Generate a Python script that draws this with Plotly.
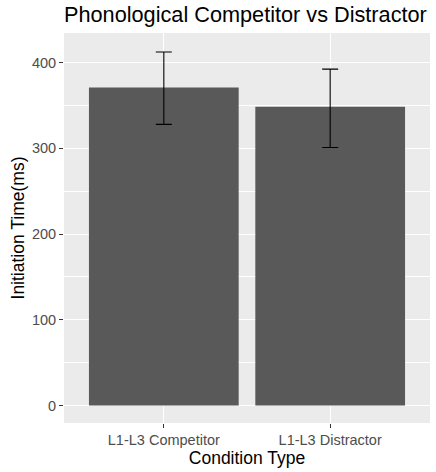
import plotly.graph_objects as go

categories = ["L1-L3 Competitor", "L1-L3 Distractor"]
means = [371, 348.5]
err_plus = [41.5, 44]
err_minus = [43, 47.5]
y_ticks = [0, 100, 200, 300, 400]

fig = go.Figure()
fig.add_trace(go.Bar(
    x=categories, y=means, width=0.9,
    marker=dict(color="#595959", line=dict(width=0)),
    error_y=dict(type="data", symmetric=False, array=err_plus, arrayminus=err_minus,
                 color="#000000", thickness=1.1, width=8),
))

fig.update_layout(
    width=436, height=472,
    margin=dict(l=64, r=6, t=33, b=49),
    paper_bgcolor="white", plot_bgcolor="#EBEBEB",
    font=dict(family="Liberation Sans, Arial, sans-serif", color="#000000"),
    title=dict(text="Phonological Competitor vs Distractor", x=0, xref="paper", xanchor="left",
               y=1 - 14.5/472, yref="container", yanchor="middle",
               font=dict(size=21.7, color="#000000")),
    showlegend=False,
    bargap=0.1,
)
fig.update_xaxes(
    range=[-0.6, 1.6], showgrid=True, gridcolor="white", gridwidth=1.1,
    ticks="outside", ticklen=4, tickcolor="#333333", tickwidth=1,
    tickfont=dict(size=14.5, color="#4D4D4D"),
    title=dict(text="Condition Type", font=dict(size=17.5, color="#000000"), standoff=2),
    zeroline=False, showline=False,
)
fig.update_yaxes(
    range=[-20.4, 434.6], tickvals=y_ticks, showgrid=True, gridcolor="white", gridwidth=1.1,
    minor=dict(tickvals=[50, 150, 250, 350], showgrid=True, gridcolor="white", gridwidth=0.5, ticks=""),
    ticks="outside", ticklen=4, tickcolor="#333333", tickwidth=1,
    tickfont=dict(size=14.5, color="#4D4D4D"),
    title=dict(text="Initiation Time(ms)", font=dict(size=17.5, color="#000000"), standoff=2),
    zeroline=False, showline=False,
)
fig.write_html("out.html")
